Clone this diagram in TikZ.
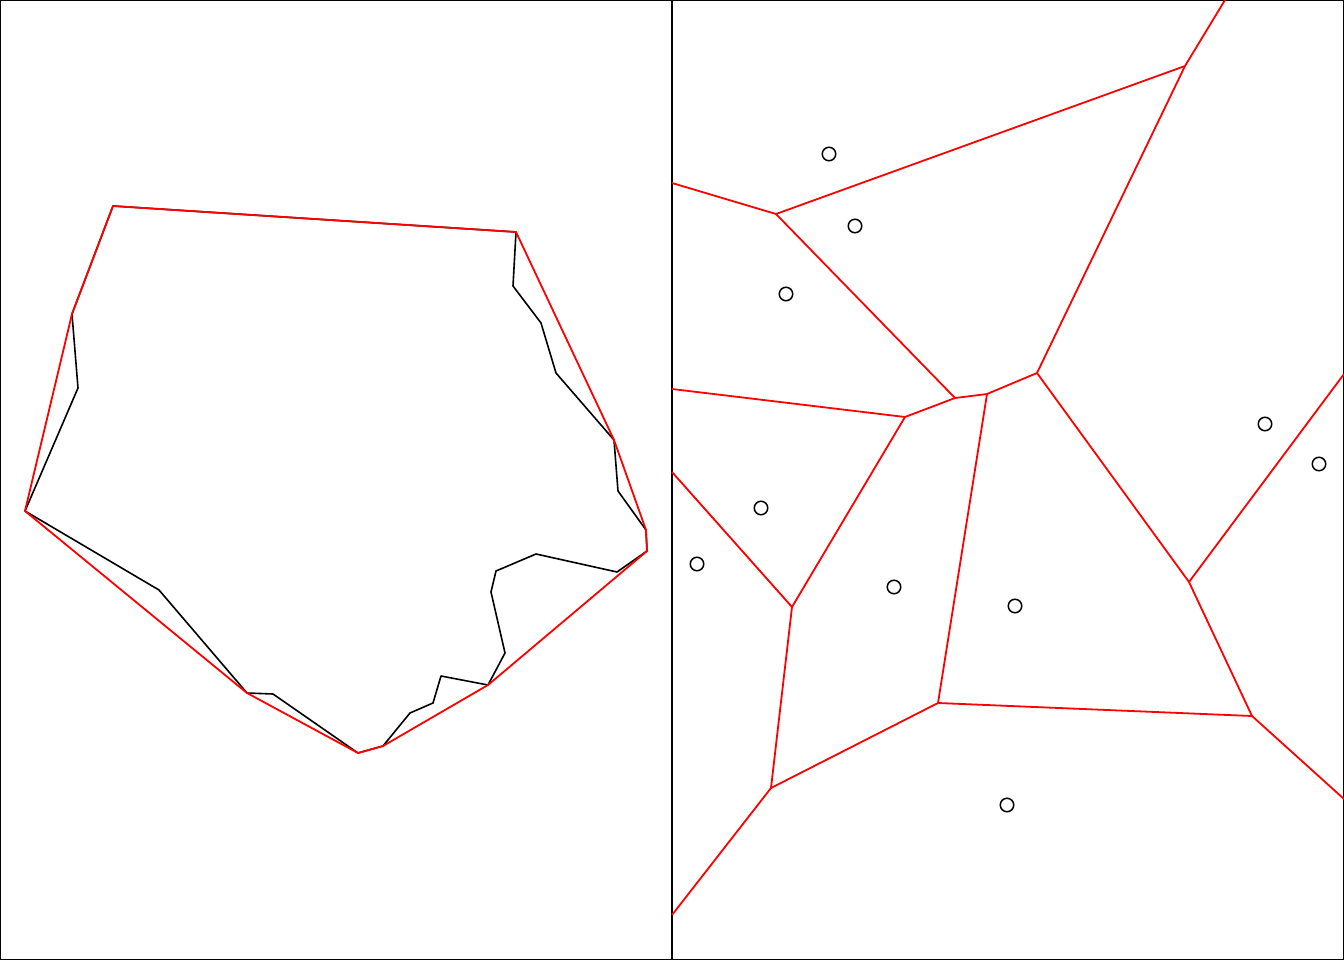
\documentclass[tikz,border=0pt]{standalone}
\usepackage{tikz}

\begin{document}
\begin{tikzpicture}[
  x=1pt,y=-1pt,
  frame/.style={draw,line width=1.6pt},
  chain/.style={draw,black,line width=1.6pt,line join=round},
  hull/.style={draw,red,line width=1.8pt,line join=round},
  cell/.style={draw,red,line width=1.8pt,line join=round},
  site/.style={draw,circle,line width=1.5pt,minimum size=13.5pt,inner sep=0pt}
]
\useasboundingbox (0,0) rectangle (1344,960);
\draw[frame] (0,0) rectangle (1344,960);
\draw[frame] (672,0) -- (672,960);

% left panel: polygon and its convex hull
\coordinate (A) at (113,206);
\coordinate (B) at (516,232);
\coordinate (C) at (614,440);
\coordinate (D) at (646,530);
\coordinate (E) at (647,551);
\coordinate (F) at (488,685);
\coordinate (G) at (383,746);
\coordinate (H) at (358,753);
\coordinate (I) at (247,693);
\coordinate (J) at (25,511);
\coordinate (K) at (72,314);
\draw[chain] (A) -- (B) -- (513,286) -- (541,323) -- (556,373) -- (C) -- (618,491)
  -- (D) -- (E) -- (617,572) -- (536,554) -- (496,571) -- (491,592) -- (505,653)
  -- (F) -- (441,676) -- (433,703) -- (410,713) -- (G) -- (H) -- (273,694)
  -- (I) -- (159,590) -- (J) -- (78,388) -- (K) -- cycle;
\draw[hull] (A) -- (B) -- (C) -- (D) -- (E) -- (F) -- (G) -- (H) -- (I) -- (J) -- (K) -- cycle;

% right panel: sites and voronoi cells
\foreach \n/\p in {1/{(829,154)},2/{(855,226)},3/{(786,294)},4/{(1265,424)},5/{(1319,464)},
                   6/{(761,508)},7/{(697,564)},8/{(894,587)},9/{(1015,606)},10/{(1007,805)}}
  \node[site] (s\n) at \p {};

\coordinate (v1) at (776,214);
\coordinate (v2) at (1185,66);
\coordinate (v3) at (1037,373);
\coordinate (v4) at (987,394);
\coordinate (v5) at (955,398);
\coordinate (v6) at (905,417);
\coordinate (v7) at (792,607);
\coordinate (v8) at (771,788);
\coordinate (v9) at (938,703);
\coordinate (v10) at (1252,716);
\coordinate (v11) at (1189,582);

\draw[cell] (672,183) -- (v1) -- (v2) -- (1225,0);
\draw[cell] (v2) -- (v3) -- (v4) -- (v5) -- (v1);
\draw[cell] (v5) -- (v6) -- (672,389);
\draw[cell] (v6) -- (v7) -- (672,472);
\draw[cell] (v7) -- (v8) -- (672,915);
\draw[cell] (v8) -- (v9) -- (v4);
\draw[cell] (v9) -- (v10) -- (1344,799);
\draw[cell] (v10) -- (v11) -- (v3);
\draw[cell] (v11) -- (1344,374);
\end{tikzpicture}
\end{document}
